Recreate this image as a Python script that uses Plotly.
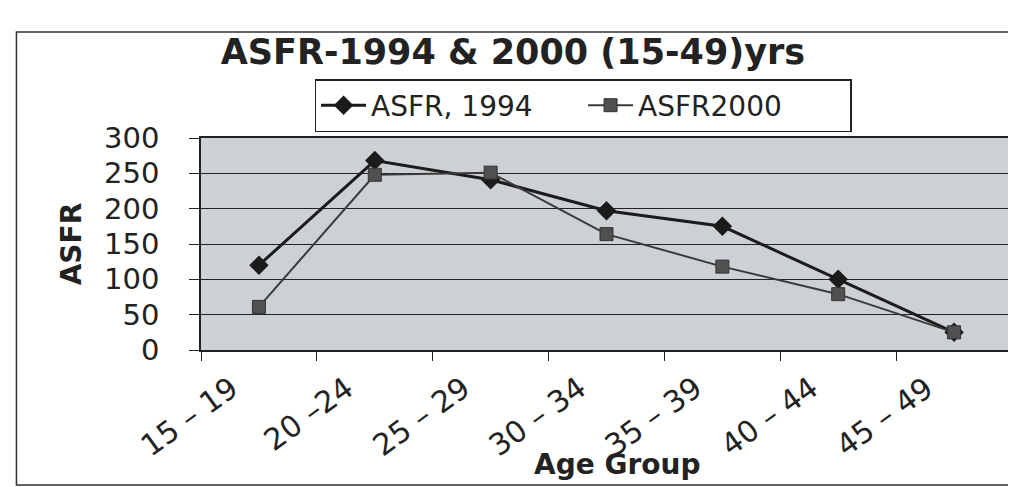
import plotly.graph_objects as go

categories = ["15 – 19", "20 –24", "25 – 29", "30 – 34", "35 – 39", "40 – 44", "45 – 49"]
asfr_1994 = [120, 268, 241, 197, 175, 100, 25]
asfr_2000 = [61, 248, 251, 164, 118, 79, 25]
y_ticks = [0, 50, 100, 150, 200, 250, 300]

W, H = 1016, 487
L, R, T, B = 193, 10, 130, 145
pw, ph = W - L - R, H - T - B

def px(x):
    return (x - L) / pw

def py(y):
    return (H - B - y) / ph

fig = go.Figure()
fig.add_trace(go.Scatter(
    x=categories, y=asfr_1994, name="ASFR, 1994", mode="lines+markers",
    line=dict(color="#1b1b1b", width=3),
    marker=dict(symbol="diamond", size=15, color="#1b1b1b"),
))
fig.add_trace(go.Scatter(
    x=categories, y=asfr_2000, name="ASFR2000", mode="lines+markers",
    line=dict(color="#3a3a3a", width=2),
    marker=dict(symbol="square", size=13, color="#505050",
                line=dict(color="#333333", width=1)),
))

tick_annotations = [
    dict(text=c, x=c, y=0, xref="x", yref="paper", xanchor="right", yanchor="top",
         xshift=-12, yshift=-17, textangle=-36, showarrow=False,
         font=dict(family="DejaVu Sans", size=30, color="#222222"))
    for c in categories
]

fig.update_layout(
    width=W, height=H,
    margin=dict(l=L, r=R, t=T, b=B),
    paper_bgcolor="white",
    plot_bgcolor="#cdd1d5",
    font=dict(family="DejaVu Sans", color="#222222"),
    title=dict(text="<b>ASFR-1994 & 2000 (15-49)yrs</b>", x=0.497, xref="container",
               y=1 - 44 / H, yref="container", yanchor="middle", xanchor="center",
               font=dict(family="DejaVu Sans", size=35, color="#222222")),
    showlegend=True,
    legend=dict(orientation="h", x=px(576), y=py(71), xanchor="center", yanchor="top",
                bordercolor="#222222", borderwidth=1.5, bgcolor="white",
                font=dict(family="DejaVu Sans", size=28, color="#222222"),
                itemwidth=45, entrywidth=207, entrywidthmode="pixels",
                tracegroupgap=0),
    xaxis=dict(
        type="category", tickson="boundaries", showticklabels=False,
        ticks="outside", ticklen=9, tickcolor="#222222", tickwidth=1.2,
        showline=True, linecolor="#222222", linewidth=1.5, mirror=True,
        showgrid=False, range=[-0.5, 6.5],
    ),
    yaxis=dict(
        range=[0, 300], tickvals=y_ticks,
        ticks="outside", ticklen=10, tickcolor="#222222", tickwidth=1.2,
        showline=True, linecolor="#222222", linewidth=1.5, mirror=True,
        showgrid=True, gridcolor="#222222", gridwidth=1,
        ticklabelstandoff=24,
        tickfont=dict(family="DejaVu Sans", size=29, color="#222222"),
        zeroline=False,
    ),
    annotations=tick_annotations + [
        dict(text="<b>ASFR</b>", textangle=-90, x=px(63), y=0.5, xref="paper", yref="paper",
             xanchor="center", yanchor="middle", showarrow=False,
             font=dict(family="DejaVu Sans", size=28, color="#222222")),
        dict(text="<b>Age Group</b>", x=px(610), y=py(456), xref="paper", yref="paper",
             xanchor="center", yanchor="middle", showarrow=False,
             font=dict(family="DejaVu Sans", size=28, color="#222222")),
    ],
    shapes=[
        dict(type="rect", xref="paper", yref="paper",
             x0=px(8), x1=px(1011), y0=py(477), y1=py(24),
             line=dict(color="#333333", width=1.5), layer="below"),
    ],
)

fig.write_html("out.html")
